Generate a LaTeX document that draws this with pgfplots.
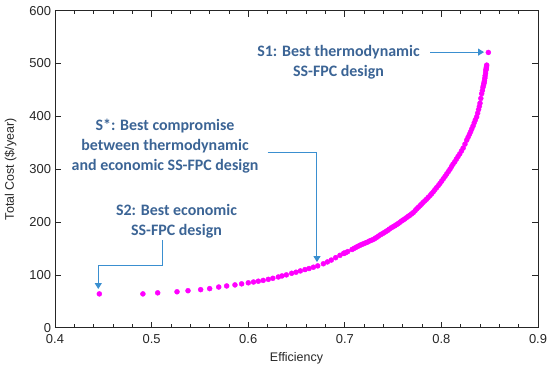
\documentclass[border=0pt]{standalone}
\usepackage{pgfplots}
\pgfplotsset{compat=1.18}
\usepackage{fontspec}
\setmainfont{Liberation Sans}
\newfontfamily\annfont{Carlito}
\usetikzlibrary{arrows.meta}
\definecolor{mag}{HTML}{FF00FF}
\definecolor{anntext}{HTML}{3B6495}
\definecolor{arr}{HTML}{3A8FD0}
\definecolor{tickc}{HTML}{262626}
\begin{document}
\begin{tikzpicture}
\path[use as bounding box] (-55bp,-41.3bp) rectangle (495bp,327.7bp);
\begin{axis}[
 scale only axis, width=483bp, height=317bp,
 xmin=0.4, xmax=0.9, ymin=0, ymax=600,
 xtick={0.4,0.5,0.6,0.7,0.8,0.9}, ytick={0,100,200,300,400,500,600},
 minor x tick num=4,
 tick align=inside,
 major tick length=6bp, minor tick length=3.3bp,
 axis line style={tickc, line width=0.8pt},
 every tick/.style={tickc, line width=0.7pt},
 tick label style={font=\fontsize{13}{15}\selectfont, text=tickc},
 /pgf/number format/assume math mode=true,
 xticklabel style={/pgf/number format/fixed, /pgf/number format/precision=1, /pgf/number format/fixed zerofill, yshift=-3.5bp},
 yticklabel style={xshift=-0.5bp},
 xlabel={Efficiency}, ylabel={Total Cost (\$/year)},
 label style={font=\fontsize{12.5}{14}\selectfont, text=tickc},
 xlabel style={at={(axis description cs:0.5,-0.0962)}, anchor=center},
 ylabel style={at={(axis description cs:-0.092,0.5)}, anchor=center},
 clip=false,
]
\addplot[only marks, mark=*, mark size=2.5bp, color=mag, mark options={draw=mag, fill=mag}] coordinates {
(0.4459,64) (0.4910,64) (0.5063,66) (0.5263,68) (0.5377,70) (0.5508,72)
(0.5601,74) (0.5695,77) (0.5777,79) (0.5863,81) (0.5932,83) (0.6001,85)
(0.6055,86.5) (0.6105,88) (0.6155,89.5) (0.6208,91.5) (0.6255,93.5) (0.6312,96)
(0.6350,98) (0.6395,100) (0.6450,103) (0.6495,105) (0.6540,107.5) (0.6588,110)
(0.6630,112) (0.6675,114.5) (0.6720,117) (0.6778,121) (0.6820,124.5) (0.6860,128)
(0.6905,132.5) (0.6950,137) (0.6990,140.5) (0.7030,144) (0.7075,148) (0.7115,152)
(0.7157,156) (0.7195,159) (0.7235,162) (0.7275,165.5) (0.7313,169) (0.7350,173.5)
(0.7390,178) (0.7425,182) (0.7460,186.5) (0.7500,191) (0.7535,195) (0.7570,199.5)
(0.7605,204) (0.7640,208.5) (0.7675,213) (0.7710,218) (0.7745,225) (0.7779,231)
(0.7810,237) (0.7845,243) (0.7882,250) (0.7915,257) (0.7950,265) (0.7985,273)
(0.8020,282) (0.8055,291) (0.8089,300) (0.8120,309.5) (0.8155,319) (0.8190,329)
(0.8225,340) (0.8262,355) (0.8290,366) (0.8315,376.5) (0.8340,388) (0.8365,399)
(0.8385,413) (0.8400,425) (0.8417,443) (0.8430,455) (0.8440,462) (0.8446,468)
(0.8453,477) (0.8460,487) (0.8465,492) (0.8469,497) (0.8486,521)
(0.6990,141) (0.7010,142) (0.7095,150) (0.7135,154) (0.7175,157.5) (0.7215,160.5)
(0.7255,164) (0.7295,167) (0.7330,171) (0.7370,176) (0.7408,180) (0.7443,184)
(0.7480,189) (0.7518,193) (0.7552,197) (0.7588,202) (0.7622,206) (0.7658,211)
(0.7692,215.5) (0.7728,221.5) (0.7762,228) (0.7795,234) (0.7828,240) (0.7863,246.5)
(0.7898,253.5) (0.7932,261) (0.7968,269) (0.8003,277.5) (0.8038,286.5) (0.8072,295.5)
(0.8105,305) (0.8138,314) (0.8172,324) (0.8208,334.5) (0.8244,347.5) (0.8276,360.5)
(0.8303,371) (0.8328,382) (0.8352,393.5) (0.8375,406) (0.8393,419) (0.8408,434)
(0.8424,449) (0.8435,458.5) (0.8443,465) (0.8450,472.5) (0.8457,482) (0.8463,489.5)
(0.8467,494.5)
};
\node[font=\annfont\bfseries\fontsize{16}{20}\selectfont, text=anntext, align=center] at (axis cs:0.6935,502.6) {S1: Best thermodynamic\\SS-FPC design};
\node[font=\annfont\bfseries\fontsize{16}{20}\selectfont, text=anntext, align=center] at (axis cs:0.5139,343.4) {S*: Best compromise\\between thermodynamic\\and economic SS-FPC design};
\node[font=\annfont\bfseries\fontsize{16}{20}\selectfont, text=anntext, align=center] at (axis cs:0.5258,201.7) {S2: Best economic\\SS-FPC design};
\draw[arr, line width=1bp, -{Triangle[width=7bp,length=6bp]}] (axis cs:0.7882,521.6) -- (axis cs:0.8441,521.6);
\draw[arr, line width=1bp, -{Triangle[width=7bp,length=6bp]}] (axis cs:0.6200,332) -- (axis cs:0.6712,332) -- (axis cs:0.6712,124.2);
\draw[arr, line width=1bp, -{Triangle[width=7bp,length=6bp]}] (axis cs:0.5118,165.8) -- (axis cs:0.5118,118.6) -- (axis cs:0.4448,118.6) -- (axis cs:0.4448,73.2);
\end{axis}
\end{tikzpicture}
\end{document}
